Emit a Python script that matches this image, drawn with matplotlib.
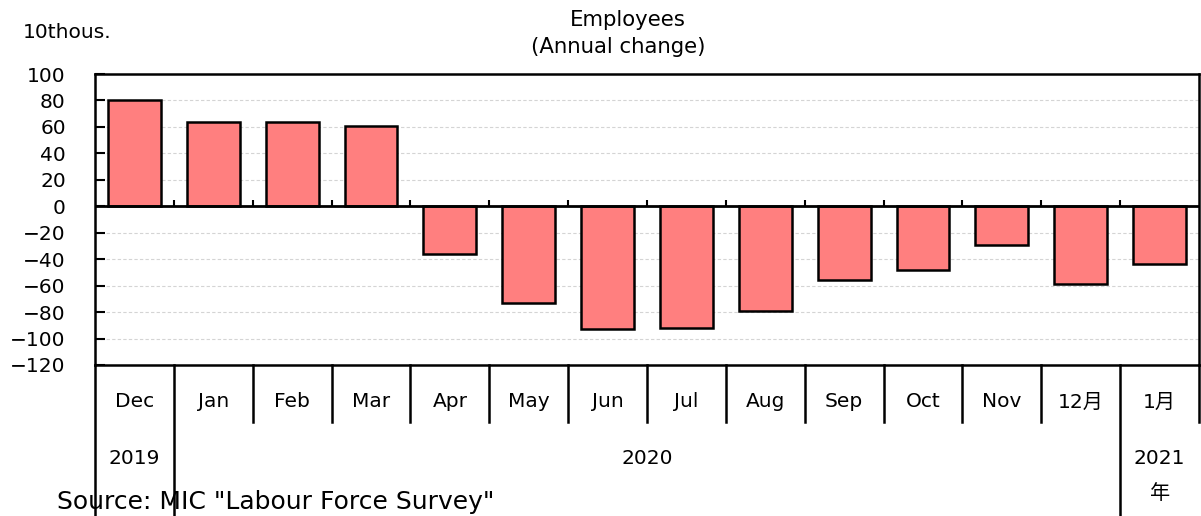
import numpy as np
import matplotlib
matplotlib.use('Agg')
import matplotlib.pyplot as plt
import matplotlib.transforms as mtransforms

plt.rcParams['font.family'] = ['DejaVu Sans', 'Noto Sans CJK JP']
#-------------------------------------------------------------------------------
# Data (10 thousand persons, change from a year earlier)
#-------------------------------------------------------------------------------
months = ['Dec', 'Jan', 'Feb', 'Mar', 'Apr', 'May', 'Jun',
          'Jul', 'Aug', 'Sep', 'Oct', 'Nov', '12月', '1月']
values = [80, 64, 64, 61, -36, -73, -93, -92, -79, -56, -48, -29, -59, -44]
# year groups: (label, first index, last index)
years  = [('2019', 0, 0), ('2020', 1, 12), ('2021', 13, 13)]
yticks = list(range(-120, 101, 20))

#-------------------------------------------------------------------------------
# Figure
#-------------------------------------------------------------------------------
W, H = 1201, 516
fs = 14.5
fig = plt.figure(figsize=(W/100, H/100), dpi=100)
ax = fig.add_axes([95/W, 1-365/H, 1104/W, 291/H])

x = np.arange(len(months))
ax.bar(x, values, width=0.67, color='#ff7f7f', edgecolor='black', linewidth=1.8, zorder=3)

ax.set_xlim(-0.5, len(months)-0.5)
ax.set_ylim(yticks[0], yticks[-1])
ax.set_yticks(yticks)
ax.set_yticklabels([str(v).replace('-', '\u2212') for v in yticks], fontsize=fs)
ax.tick_params(axis='y', direction='in', length=7, width=1.5, pad=21)
ax.set_xticks([])
for v in yticks[1:-1]:
    if v != 0:
        ax.axhline(v, color='#d4d4d4', lw=0.8, ls=(0, (3, 2)), zorder=1)
ax.axhline(0, color='black', lw=2, zorder=4)
for s in ax.spines.values():
    s.set_linewidth(1.8)

# small ticks on the zero line at category boundaries
ax.vlines(x[:-1]+0.5, 0, 4.5, color='black', lw=1.5, zorder=4)

# category dividers and labels under the plot
trans = mtransforms.blended_transform_factory(ax.transData, ax.transAxes)
year_edges = [g[1]-0.5 for g in years]
for b in np.arange(-0.5, len(months)):
    y_end = -0.52 if b in year_edges else -0.196
    ax.plot([b, b], [0, y_end], color='black', lw=1.8, transform=trans, clip_on=False)
for i, m in enumerate(months):
    ax.text(i, -0.127, m, transform=trans, ha='center', va='center', fontsize=fs)
for lbl, i0, i1 in years:
    ax.text((i0+i1)/2, -0.32, lbl, transform=trans, ha='center', va='center', fontsize=fs)
ax.text(years[-1][1], -0.443, '年', transform=trans, ha='center', va='center', fontsize=fs)

# texts
fig.text(23/W, 1-33/H, '10thous.', fontsize=fs, ha='left', va='center')
fig.text(628/W, 1-20/H, 'Employees', fontsize=fs+0.8, ha='center', va='center')
fig.text(618/W, 1-47/H, '(Annual change)', fontsize=fs+0.8, ha='center', va='center')
fig.text(57/W, 1-509/H, 'Source: MIC "Labour Force Survey"', fontsize=18, ha='left', va='baseline')

fig.savefig('out.png', dpi=100)
